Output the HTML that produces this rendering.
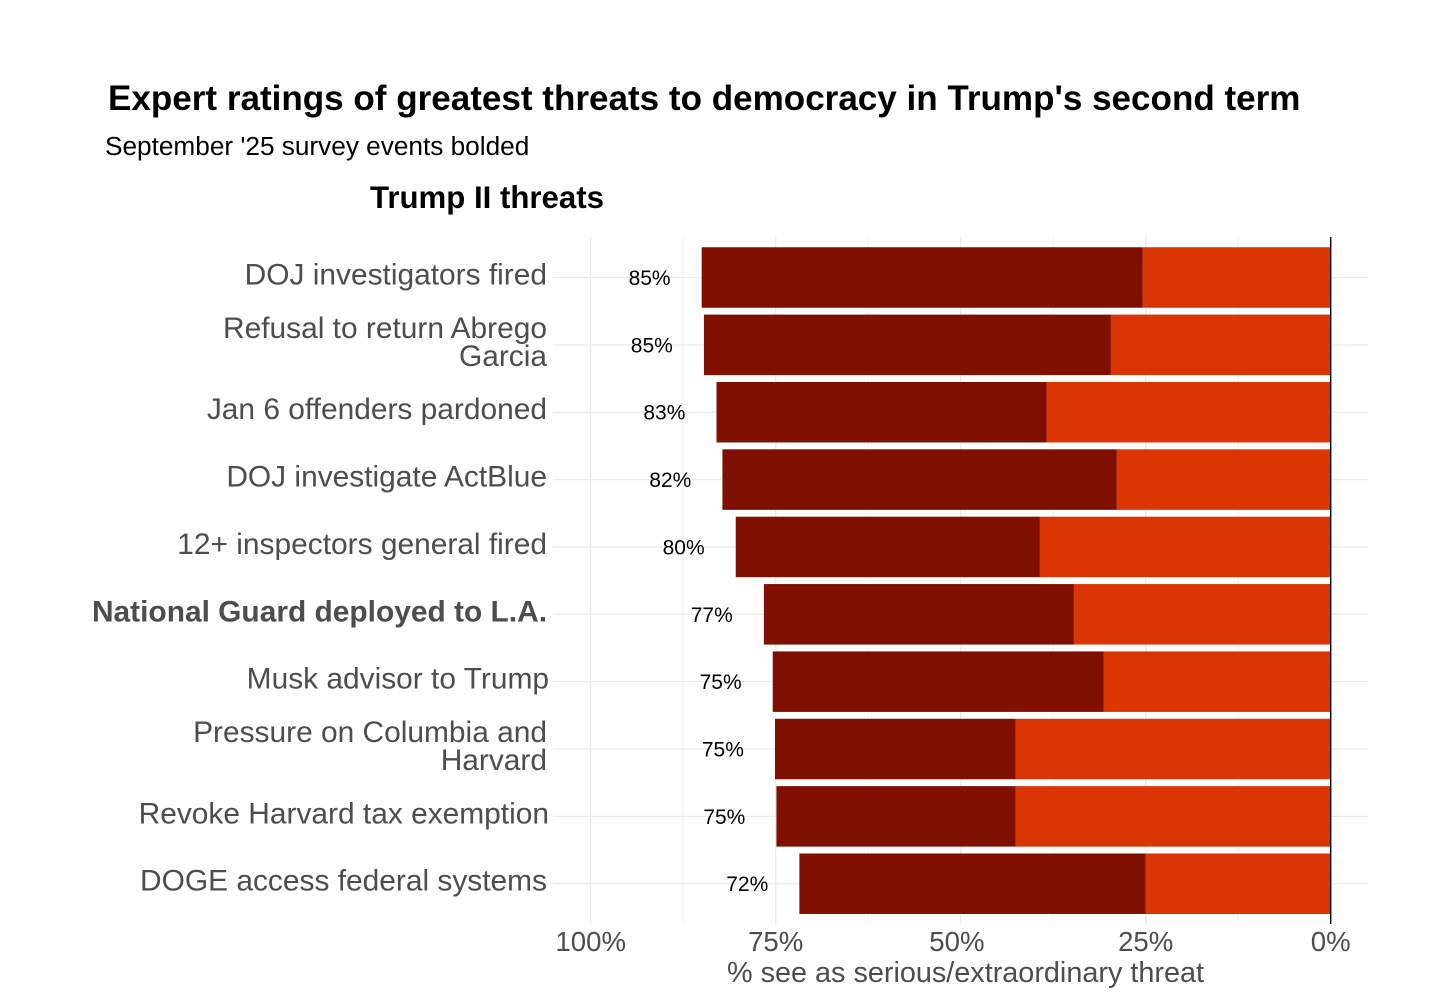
<!DOCTYPE html>
<html lang="en">
<head>
<meta charset="utf-8">
<title>Expert ratings of greatest threats to democracy</title>
<style>
html,body{margin:0;padding:0;background:#fff;}
svg{display:block;font-family:"Liberation Sans",Arial,sans-serif;}
</style>
</head>
<body>
<svg id="chart" width="1456" height="1000" viewBox="0 0 1456 1000" xmlns="http://www.w3.org/2000/svg">
  <rect x="0" y="0" width="1456" height="1000" fill="#fff"/>
  <text x="108" y="110" font-size="35.05" font-weight="700" fill="#000">Expert ratings of greatest threats to democracy in Trump's second term</text>
  <text x="105" y="155" font-size="26.2" fill="#000">September '25 survey events bolded</text>
  <text x="370" y="208" font-size="31.2" font-weight="700" fill="#000">Trump II threats</text>
  <g id="grid"></g>
  <g id="bars"></g>
  <g id="values"></g>
  <g id="yaxis"></g>
  <g id="xaxis"></g>
  <text x="965.5" y="982" font-size="28.8" fill="#4d4d4d" text-anchor="middle">% see as serious/extraordinary threat</text>
</svg>
<script>
const categories = [
  ["DOJ investigators fired"],
  ["Refusal to return Abrego", "Garcia"],
  ["Jan 6 offenders pardoned"],
  ["DOJ investigate ActBlue"],
  ["12+ inspectors general fired"],
  ["National Guard deployed to L.A."],
  ["Musk advisor to Trump"],
  ["Pressure on Columbia and", "Harvard"],
  ["Revoke Harvard tax exemption"],
  ["DOGE access federal systems"]
];
const boldCategories = ["National Guard deployed to L.A."];
const lightSeries = [25.4, 29.7, 38.4, 28.9, 39.3, 34.7, 30.7, 42.6, 42.6, 25.0];
const darkSeries = [59.6, 55.0, 44.6, 53.3, 41.1, 41.9, 44.7, 32.5, 32.3, 46.8];
const valueLabels = ["85%", "85%", "83%", "82%", "80%", "77%", "75%", "75%", "75%", "72%"];
const majorTicks = [100, 75, 50, 25, 0];
const minorTicks = [87.5, 62.5, 37.5, 12.5];
const tickLabels = ["100%", "75%", "50%", "25%", "0%"];

const NS = "http://www.w3.org/2000/svg";
const xScale = v => 1330.7 - v * 7.4;
const bandHeight = 67.36;
const bandCenter = i => 277.5 + i * bandHeight;
const barHeight = 60.5;
const plotTop = 237, plotBottom = 924, plotLeft = 553, plotRight = 1368;
const gridColor = "#ebebeb";

function line(parent, x1, y1, x2, y2, stroke, width) {
  const el = document.createElementNS(NS, "line");
  el.setAttribute("x1", x1);
  el.setAttribute("y1", y1);
  el.setAttribute("x2", x2);
  el.setAttribute("y2", y2);
  el.setAttribute("stroke", stroke);
  el.setAttribute("stroke-width", width);
  parent.appendChild(el);
  return el;
}
function rect(parent, x, y, w, h, fill) {
  const el = document.createElementNS(NS, "rect");
  el.setAttribute("x", x);
  el.setAttribute("y", y);
  el.setAttribute("width", w);
  el.setAttribute("height", h);
  el.setAttribute("fill", fill);
  parent.appendChild(el);
  return el;
}
function label(parent, x, y, str, size, fill, anchor) {
  const el = document.createElementNS(NS, "text");
  el.setAttribute("x", x);
  el.setAttribute("y", y);
  el.setAttribute("font-size", size);
  el.setAttribute("fill", fill);
  el.setAttribute("text-anchor", anchor);
  el.textContent = str;
  parent.appendChild(el);
  return el;
}

const grid = document.getElementById("grid");
const bars = document.getElementById("bars");
const values = document.getElementById("values");
const yaxis = document.getElementById("yaxis");
const xaxis = document.getElementById("xaxis");

minorTicks.forEach(t => {
  const el = line(grid, xScale(t), plotTop, xScale(t), plotBottom, "#f2f2f2", 1);
  
  
});
majorTicks.forEach(t => {
  const el = line(grid, xScale(t), plotTop, xScale(t), plotBottom, gridColor, 1.3);
  
  
});
categories.forEach((c, i) => {
  const el = line(grid, plotLeft, bandCenter(i), plotRight, bandCenter(i), gridColor, 1.3);
  
  
});

categories.forEach((c, i) => {
  const top = bandCenter(i) - barHeight / 2;
  const lightEnd = xScale(lightSeries[i]);
  const total = lightSeries[i] + darkSeries[i];
  const totalEnd = xScale(total);

  const light = rect(bars, lightEnd, top, xScale(0) - lightEnd, barHeight, "#da3503");
  
  

  const dark = rect(bars, totalEnd, top, lightEnd - totalEnd, barHeight, "#7f1000");
  
  

  const val = label(values, xScale(total + 7) - 0.3, bandCenter(i) + 7.5, valueLabels[i], 21, "#000", "middle");
  
  

  const isBold = boldCategories.includes(c[0]);
  const baseFirst = bandCenter(i) + 8 - (c.length - 1) * 14 - 1;
  c.forEach((ln, k) => {
    const wide = ln.startsWith("Musk") || ln.startsWith("Revoke");
    const t = label(yaxis, wide ? 549 : 547, baseFirst + k * 28, ln, 29.9, "#4d4d4d", "end");
    if (isBold) t.setAttribute("font-weight", "700");
    
    
  });
});

const zero = line(xaxis, xScale(0), plotTop, xScale(0), plotBottom, "#000", 1.4);



majorTicks.forEach((t, i) => {
  const shift = t === 50 ? -3.8 : 0;
  const el = label(xaxis, xScale(t) + shift, 951, tickLabels[i], 27.6, "#4d4d4d", "middle");
  
  
});
</script>
</body>
</html>
